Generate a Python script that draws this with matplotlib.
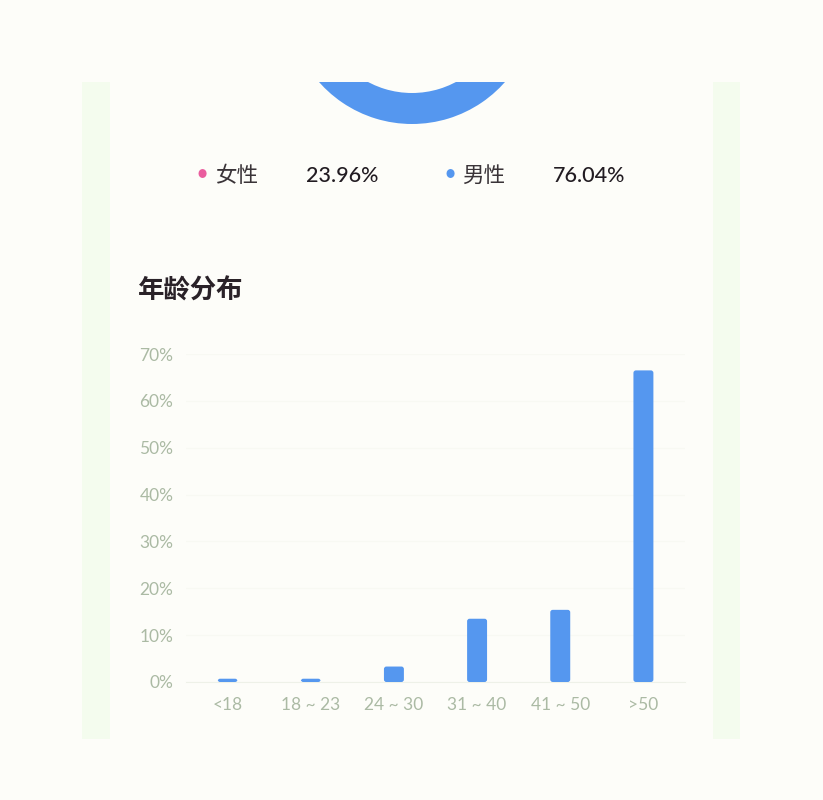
import matplotlib.pyplot as plt
from matplotlib.patches import Rectangle, FancyBboxPatch

plt.rcParams['font.family'] = ['Noto Sans CJK SC', 'DejaVu Sans']

# gender split (donut)
genders = ['女性', '男性']
gender_share = [23.96, 76.04]
gender_colors = ['#ea5d9e', '#5597ef']

# age distribution
age_groups = ['<18', '18 ~ 23', '24 ~ 30', '31 ~ 40', '41 ~ 50', '>50']
age_share = [0.7, 0.7, 3.3, 13.5, 15.4, 66.5]
y_ticks = [0, 10, 20, 30, 40, 50, 60, 70]

W, H = 823, 800
bg = '#fdfdf9'
tick_col = '#abbaa4'
bar_col = '#5597ef'

fig = plt.figure(figsize=(W / 100, H / 100), dpi=100, facecolor=bg)


def px(x, y):
    # pixel coords from top-left -> figure fraction
    return x / W, 1 - y / H


def rect(x0, y0, x1, y1):
    return [x0 / W, 1 - y1 / H, (x1 - x0) / W, (y1 - y0) / H]


# side strips
for x0, x1 in [(82, 110), (713, 740)]:
    fig.patches.append(Rectangle((x0 / W, 1 - 739 / H), (x1 - x0) / W, (739 - 82) / H,
                                 transform=fig.transFigure, facecolor='#f4fcee',
                                 edgecolor='none', zorder=0))

# donut, only lower part visible
ax_d = fig.add_axes(rect(288, 82, 536, 140))
wedges, _ = ax_d.pie(gender_share, colors=gender_colors, radius=124, center=(0, 0),
                     startangle=90 - gender_share[0] * 3.6 / 2, counterclock=True,
                     wedgeprops=dict(width=31, edgecolor='none'))
for w in wedges:
    w.set_clip_on(True)
    w.set_clip_box(ax_d.bbox)
ax_d.set_xlim(-124, 124)
ax_d.set_ylim(-140, -82)
ax_d.set_aspect('auto')
ax_d.axis('off')

# legend row
leg = [(202, 215, 306), (450, 462, 553)]
for (dx, lx, vx), name, val, c in zip(leg, genders, gender_share, gender_colors):
    fig.text(*px(dx, 175), '●', color=c, fontsize=6.5, ha='center', va='center')
    fig.text(*px(lx, 176), name, color='#3a3438', fontsize=15.5, ha='left', va='center')
    fig.text(*px(vx, 176), f'{val:.2f}%', color='#221c22', fontsize=15.5,
             fontweight='medium', ha='left', va='center', family=['Lato', 'DejaVu Sans'])

# title
fig.text(*px(138, 291), '年龄分布', color='#2a2228', fontsize=19, fontweight='bold',
         ha='left', va='center')

# bar chart
ax = fig.add_axes(rect(186, 354, 685, 682))
ax.set_facecolor('none')
x = range(len(age_groups))
bars = ax.bar(x, age_share, width=0.24, color=bar_col, zorder=3)
ax.set_xlim(-0.5, len(age_groups) - 0.5)
ax.set_ylim(0, 70)

# rounded tops: swap each bar for a rounded box of the same size
x_per_px = (len(age_groups)) / 499
y_per_px = 70 / 328
for b in bars:
    bx, by = b.get_xy()
    bw, bh = b.get_width(), b.get_height()
    b.remove()
    ax.add_patch(FancyBboxPatch((bx, by), bw, bh,
                                boxstyle=f'round,pad=0,rounding_size={2.5 * x_per_px}',
                                mutation_aspect=y_per_px / x_per_px,
                                facecolor=bar_col, edgecolor='none', zorder=3))

ax.set_yticks(y_ticks)
ax.set_yticklabels([f'{v}%' for v in y_ticks])
ax.set_xticks(list(x))
ax.set_xticklabels(age_groups)
ax.tick_params(length=0, colors=tick_col, labelsize=12.5)
ax.tick_params(axis='y', pad=9)
ax.tick_params(axis='x', pad=11)
for lab in ax.get_xticklabels() + ax.get_yticklabels():
    lab.set_family(['Lato', 'DejaVu Sans'])
ax.grid(axis='y', color='#f8f9f3', linewidth=0.8, zorder=0)
for s in ['top', 'right', 'left']:
    ax.spines[s].set_visible(False)
ax.spines['bottom'].set_color('#eef1e8')

fig.savefig('out.png', dpi=100, facecolor=bg)
